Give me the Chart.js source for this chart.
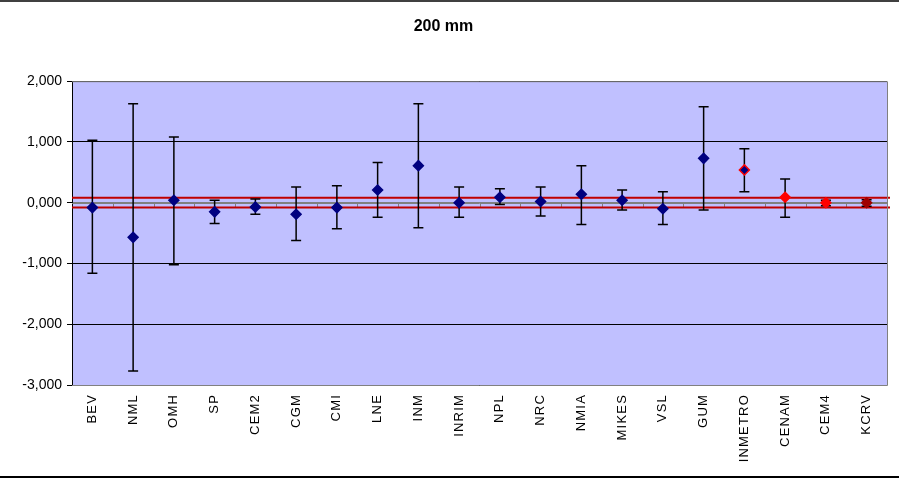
<!DOCTYPE html>
<html>
<head>
<meta charset="utf-8">
<script src="https://cdn.jsdelivr.net/npm/chart.js@4/dist/chart.umd.min.js"></script>
<style>
  html, body { margin: 0; padding: 0; background: #fff; }
  #wrap { width: 899px; height: 478px; position: relative; }
</style>
</head>
<body>
<div id="wrap"><canvas id="chart" width="899" height="478"></canvas></div>
<script>
// chart data
const categories = ['BEV', 'NML', 'OMH', 'SP', 'CEM2', 'CGM', 'CMI', 'LNE', 'INM', 'INRIM',
    'NPL', 'NRC', 'NMIA', 'MIKES', 'VSL', 'GUM', 'INMETRO', 'CENAM', 'CEM4', 'KCRV'];
const values = [-0.08, -0.57, 0.04, -0.15, -0.07, -0.19, -0.08, 0.21, 0.61, 0.00,
    0.09, 0.02, 0.14, 0.04, -0.10, 0.73, 0.54, 0.09, 0.00, 0.00];
const upper = [1.03, 1.63, 1.08, 0.04, 0.06, 0.26, 0.28, 0.66, 1.63, 0.26,
    0.23, 0.26, 0.61, 0.21, 0.18, 1.58, 0.89, 0.39, 0.04, 0.05];
const lower = [-1.16, -2.77, -1.02, -0.34, -0.19, -0.62, -0.43, -0.24, -0.41, -0.24,
    -0.03, -0.22, -0.36, -0.12, -0.36, -0.12, 0.18, -0.24, -0.05, -0.06];
const refLimits = [0.08, -0.08];
const yTicks = [-3, -2, -1, 0, 1, 2];

const FONT = 'Arial, "Liberation Sans", sans-serif';

// marker colours per participant
function fillFor(name) {
    if (name === 'CENAM' || name === 'CEM4') return '#FF0000';
    if (name === 'KCRV') return '#A00000';
    return '#000080';
}
function borderFor(name) {
    if (name === 'INMETRO') return '#FF0000';
    return fillFor(name);
}

const fmt = v => v.toFixed(3).replace('.', ',');

const framePlugin = {
    id: 'frame',
    beforeDraw(chart) {
        const ctx = chart.ctx;
        const a = chart.chartArea;
        ctx.save();
        ctx.fillStyle = '#fff';
        ctx.fillRect(0, 0, chart.width, chart.height);
        ctx.fillStyle = '#C0C0FF';
        ctx.fillRect(a.left, a.top, a.right - a.left, a.bottom - a.top);
        // outer chart border lines
        ctx.fillStyle = '#404040';
        ctx.fillRect(0, 0, chart.width, 2);
        ctx.fillStyle = '#000';
        ctx.fillRect(0, 476, chart.width, 2);
        ctx.restore();
    },
    afterDraw(chart) {
        const ctx = chart.ctx;
        const a = chart.chartArea;
        ctx.save();
        ctx.strokeStyle = '#808080';
        ctx.lineWidth = 1;
        ctx.beginPath();
        ctx.moveTo(a.left, a.top + 0.5);
        ctx.lineTo(a.right + 0.5, a.top + 0.5);
        ctx.lineTo(a.right + 0.5, a.bottom + 0.5);
        ctx.lineTo(a.left, a.bottom + 0.5);
        ctx.stroke();
        ctx.restore();
    }
};

const errorBarPlugin = {
    id: 'errorBars',
    beforeDatasetsDraw(chart) {
        const ctx = chart.ctx;
        const x = chart.scales.x;
        const y = chart.scales.y;
        const a = chart.chartArea;

        // category axis crossing at zero, with ticks between categories
        const y0 = Math.round(y.getPixelForValue(0)) + 0.5;
        ctx.save();
        ctx.strokeStyle = '#808080';
        ctx.lineWidth = 1;
        ctx.beginPath();
        ctx.moveTo(a.left, y0);
        ctx.lineTo(a.right, y0);
        const step = (a.right - a.left) / categories.length;
        for (let i = 1; i < categories.length; i++) {
            const tx = Math.round(a.left + i * step) + 0.5;
            ctx.moveTo(tx, y0);
            ctx.lineTo(tx, y0 + 4);
        }
        ctx.stroke();

        // reference limits
        ctx.strokeStyle = '#C00000';
        ctx.lineWidth = 2;
        refLimits.forEach(v => {
            const py = y.getPixelForValue(v);
            ctx.beginPath();
            ctx.moveTo(a.left, py);
            ctx.lineTo(a.right + 3, py);
            ctx.stroke();
        });

        // uncertainty bars
        ctx.strokeStyle = '#000';
        ctx.lineWidth = 1.5;
        categories.forEach((c, i) => {
            const px = x.getPixelForValue(i);
            const pt = y.getPixelForValue(upper[i]);
            const pb = y.getPixelForValue(lower[i]);
            ctx.beginPath();
            ctx.moveTo(px, pt);
            ctx.lineTo(px, pb);
            ctx.moveTo(px - 5, pt);
            ctx.lineTo(px + 5, pt);
            ctx.moveTo(px - 5, pb);
            ctx.lineTo(px + 5, pb);
            ctx.stroke();
        });
        ctx.restore();
    }
};

const chart = new Chart(document.getElementById('chart'), {
    type: 'line',
    data: {
        labels: categories,
        datasets: [{
            data: values,
            showLine: false,
            pointStyle: 'rectRot',
            pointRadius: 5,
            pointHoverRadius: 5,
            pointBorderWidth: 1.5,
            pointBackgroundColor: categories.map(fillFor),
            pointBorderColor: categories.map(borderFor)
        }]
    },
    options: {
        responsive: false,
        animation: false,
        events: [],
        layout: { padding: { left: 0, right: 12, top: 0, bottom: 0 } },
        plugins: {
            legend: { display: false },
            tooltip: { enabled: false },
            title: {
                display: true,
                text: '200 mm',
                color: '#000',
                font: { family: FONT, size: 16, weight: 'bold' },
                padding: { top: 17, bottom: 45 }
            }
        },
        scales: {
            x: {
                type: 'category',
                offset: true,
                grid: { display: false, drawTicks: false },
                border: { display: false },
                ticks: {
                    color: '#000',
                    font: { family: FONT, size: 13 },
                    minRotation: 90,
                    maxRotation: 90,
                    padding: 9,
                    autoSkip: false
                },
                afterFit(scale) { scale.height = 478 - 385; }
            },
            y: {
                min: -3,
                max: 2,
                afterBuildTicks(scale) { scale.ticks = yTicks.map(v => ({ value: v })); },
                grid: {
                    color: ctx => (ctx.tick && ctx.tick.value === 0) ? '#808080' : '#000',
                    tickColor: '#000',
                    tickLength: 5,
                    lineWidth: 1
                },
                border: { display: true, color: '#000', width: 1 },
                ticks: {
                    color: '#000',
                    font: { family: FONT, size: 14 },
                    padding: 5,
                    callback: v => fmt(v)
                },
                afterFit(scale) { scale.width = 72; }
            }
        }
    },
    plugins: [framePlugin, errorBarPlugin]
});

// the category labels in the original are drawn wide, so space their letters out
const xScale = chart.scales.x;
const baseDrawLabels = xScale.drawLabels;
xScale.drawLabels = function (area) {
    this.ctx.save();
    this.ctx.letterSpacing = '1.2px';
    baseDrawLabels.call(this, area);
    this.ctx.restore();
};
chart.draw();
</script>
</body>
</html>
